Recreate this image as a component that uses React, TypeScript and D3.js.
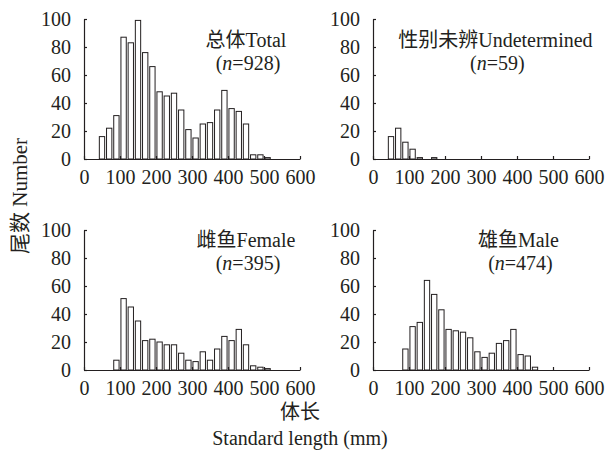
import * as d3 from "d3";
import React, { useRef, useEffect } from "react";

// lower edge of each 20 mm length class
const binStarts = [40, 60, 80, 100, 120, 140, 160, 180, 200, 220, 240, 260, 280, 300, 320, 340, 360, 380, 400, 420, 440, 460, 480, 500];
const totalCounts = [16, 22, 31, 87, 83, 99, 76, 66, 48, 45, 47, 35, 21, 15, 25, 26, 35, 49, 36, 34, 25, 3, 3, 1];
const undeterminedCounts = [16, 22, 12, 7, 1, 0, 1, 0, 0, 0, 0, 0, 0, 0, 0, 0, 0, 0, 0, 0, 0, 0, 0, 0];
const femaleCounts = [0, 0, 7, 51, 45, 35, 21, 22, 20, 18, 18, 12, 7, 6, 13, 7, 15, 24, 21, 29, 18, 3, 2, 1];
const maleCounts = [0, 0, 15, 31, 34, 64, 54, 43, 29, 28, 27, 23, 13, 9, 12, 19, 21, 29, 11, 10, 2, 0, 0, 0];

const panelTitles = ["总体Total", "性别未辨Undetermined", "雌鱼Female", "雄鱼Male"];
const panelNs = ["928", "59", "395", "474"];
const xTicks = [0, 100, 200, 300, 400, 500, 600];
const yTicks = [0, 20, 40, 60, 80, 100];

const FONT = "'Liberation Serif', 'Times New Roman', 'Noto Sans CJK SC', serif";
const INK = "#231f20";

export default function App() {
  const svgRef = useRef<SVGSVGElement>(null);

  useEffect(() => {
    const svg = d3.select(svgRef.current);
    svg.selectAll("*").remove();

    const series = [totalCounts, undeterminedCounts, femaleCounts, maleCounts];
    // plot origins and title anchors (title anchors in data units)
    const layout = [
      { x0: 84, y0: 159, tx: 450, ty: 80 },
      { x0: 373, y0: 159, tx: 340, ty: 80 },
      { x0: 84, y0: 370, tx: 450, ty: 88 },
      { x0: 373, y0: 370, tx: 404, ty: 88 },
    ];
    const plotW = 216;
    const plotH = 140;

    series.forEach((counts, i) => {
      const { x0, y0, tx, ty } = layout[i];
      const x = d3.scaleLinear().domain([0, 600]).range([x0, x0 + plotW]);
      const y = d3.scaleLinear().domain([0, 100]).range([y0, y0 - plotH]);
      const g = svg.append("g");

      const binW = x(20) - x(0);
      const pad = binW * 0.13;
      g.selectAll("rect")
        .data(binStarts.map((b, j) => ({ b, v: counts[j] })).filter((d) => d.v > 0))
        .enter()
        .append("rect")
        .attr("x", (d) => x(d.b) + pad)
        .attr("width", binW - 2 * pad)
        .attr("y", (d) => y(d.v))
        .attr("height", (d) => y(0) - y(d.v))
        .attr("fill", "#fff")
        .attr("stroke", INK)
        .attr("stroke-width", 1);

      const xAxis = g
        .append("g")
        .attr("transform", `translate(0,${y0})`)
        .call(d3.axisBottom(x).tickValues(xTicks).tickSizeInner(-3).tickSizeOuter(0).tickPadding(11));
      const yAxis = g
        .append("g")
        .attr("transform", `translate(${x0},0)`)
        .call(d3.axisLeft(y).tickValues(yTicks).tickSizeInner(-3).tickSizeOuter(0).tickPadding(13));

      [xAxis, yAxis].forEach((a) => {
        a.selectAll("path,line").attr("stroke", INK).attr("stroke-width", 1.2);
        a.selectAll("text").attr("font-family", FONT).attr("font-size", 20).attr("fill", INK);
      });

      g.append("text")
        .attr("x", x(tx))
        .attr("y", y(ty))
        .attr("text-anchor", "middle")
        .attr("font-family", FONT)
        .attr("font-size", 20)
        .attr("fill", INK)
        .text(panelTitles[i]);

      const nLine = g
        .append("text")
        .attr("x", x(tx) + 2)
        .attr("y", y(ty) + 23)
        .attr("text-anchor", "middle")
        .attr("font-family", FONT)
        .attr("font-size", 20)
        .attr("fill", INK);
      nLine.append("tspan").text("(");
      nLine.append("tspan").attr("font-style", "italic").text("n");
      nLine.append("tspan").text(`=${panelNs[i]})`);
    });

    svg
      .append("text")
      .attr("transform", "translate(27,196) rotate(-90)")
      .attr("text-anchor", "middle")
      .attr("font-family", FONT)
      .attr("font-size", 21)
      .attr("fill", INK)
      .text("尾数 Number");

    svg
      .append("text")
      .attr("x", 300)
      .attr("y", 419)
      .attr("text-anchor", "middle")
      .attr("font-family", FONT)
      .attr("font-size", 20)
      .attr("fill", INK)
      .text("体长");

    svg
      .append("text")
      .attr("x", 300)
      .attr("y", 445)
      .attr("text-anchor", "middle")
      .attr("font-family", FONT)
      .attr("font-size", 20)
      .attr("fill", INK)
      .text("Standard length (mm)");
  }, []);

  return (
    <svg
      ref={svgRef}
      width={607}
      height={460}
      style={{ position: "absolute", left: 0, top: 0, background: "#fff" }}
    ></svg>
  );
}
